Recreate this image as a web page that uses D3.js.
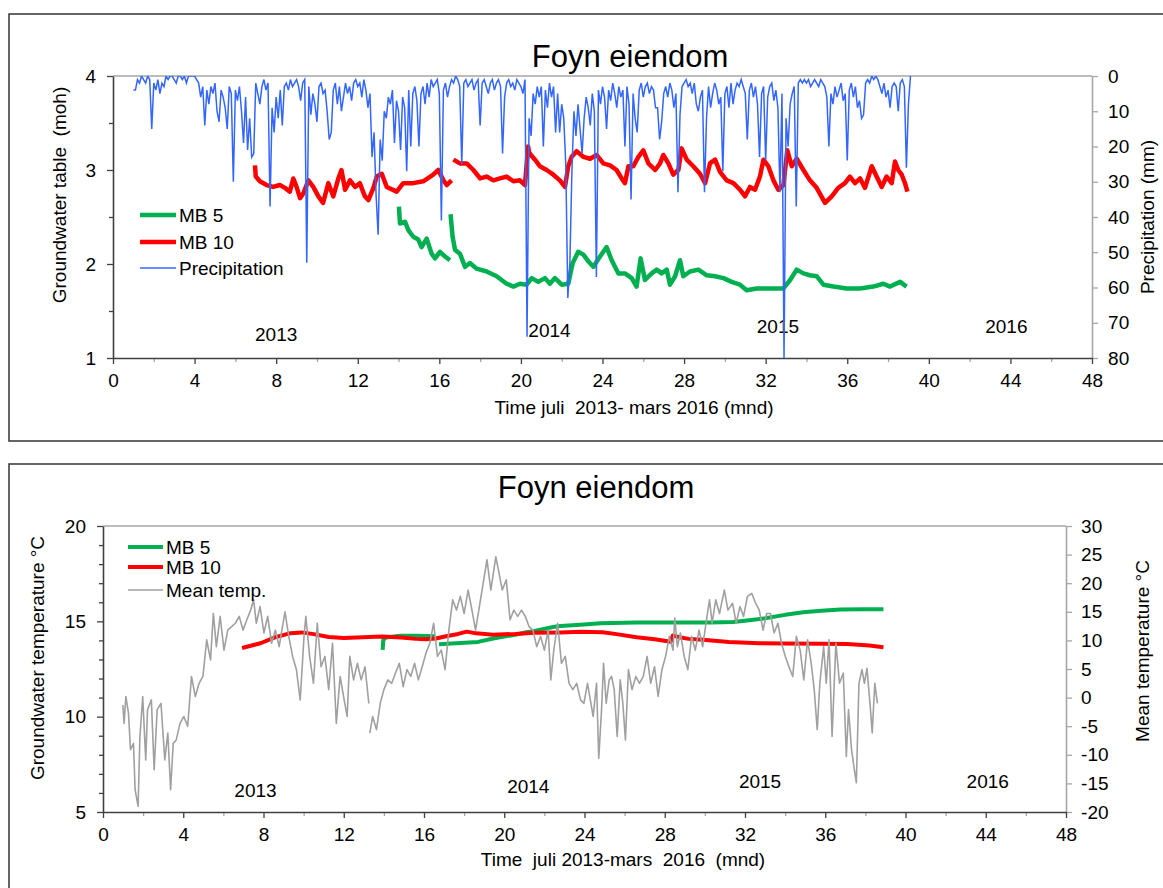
<!DOCTYPE html>
<html>
<head>
<meta charset="utf-8">
<script src="https://cdn.jsdelivr.net/npm/d3@7"></script>
<style>
  body { margin: 0; background: #fff; }
  text { font-family: "Liberation Sans", Arial, sans-serif; fill: #000; }
</style>
</head>
<body>
<div id="chart"></div>
<script>
// ---- data (months since july 2013) ----
const monthTicks = [0, 4, 8, 12, 16, 20, 24, 28, 32, 36, 40, 44, 48];
const monthMinorTicks = [2, 6, 10, 14, 18, 22, 26, 30, 34, 38, 42, 46];
const levelTicks = [1, 2, 3, 4];
const levelMinorTicks = [1.5, 2.5, 3.5];
const precipTicks = [0, 10, 20, 30, 40, 50, 60, 70, 80];
const tempTicks = [5, 10, 15, 20];
const tempMinorTicks = [6, 7, 8, 9, 11, 12, 13, 14, 16, 17, 18, 19];
const meanTempTicks = [-20, -15, -10, -5, 0, 5, 10, 15, 20, 25, 30];

const years = ["2013", "2014", "2015", "2016"];
const yearMonthsTop = [8.0, 21.4, 32.6, 43.8];
const yearLevelsTop = [1.18, 1.22, 1.265, 1.265];
const yearMonthsBottom = [7.6, 21.2, 32.75, 44.1];
const yearTempsBottom = [5.79, 6.0, 6.27, 6.27];

// groundwater table (moh), null = gap in the logger series
const mb5Level = [
  [14.02, 2.61], [14.07, 2.43], [14.32, 2.45], [14.48, 2.36], [14.72, 2.29], [14.97, 2.26],
  [15.13, 2.18], [15.38, 2.27], [15.62, 2.11], [15.79, 2.06], [16.03, 2.13], [16.28, 2.08],
  [16.52, 2.04], null,
  [16.55, 2.53], [16.65, 2.29], [16.77, 2.15], [17.01, 2.11], [17.26, 1.97], [17.5, 2.01],
  [17.83, 1.95], [18.32, 1.92], [18.81, 1.87], [19.3, 1.79], [19.63, 1.76], [19.95, 1.79],
  [20.28, 1.78], [20.53, 1.85], [20.85, 1.81], [21.18, 1.85], [21.42, 1.79], [21.67, 1.85],
  [22.0, 1.78], [22.32, 1.79], [22.54, 2.01], [22.81, 2.13], [23.06, 2.1], [23.3, 2.03],
  [23.55, 1.97], [23.88, 2.08], [24.2, 2.18], [24.45, 2.04], [24.78, 1.9], [25.1, 1.9],
  [25.43, 1.85], [25.67, 1.76], [25.87, 2.06], [26.08, 1.83], [26.41, 1.9], [26.66, 1.94],
  [26.9, 1.9], [27.15, 1.94], [27.31, 1.78], [27.56, 1.87], [27.8, 2.04], [27.96, 1.87],
  [28.29, 1.92], [28.7, 1.94], [29.11, 1.88], [29.52, 1.87], [29.93, 1.85], [30.33, 1.81],
  [30.74, 1.78], [31.07, 1.72], [31.56, 1.74], [32.21, 1.74], [32.87, 1.74], [33.2, 1.83],
  [33.52, 1.94], [33.85, 1.9], [34.17, 1.88], [34.5, 1.87], [34.83, 1.78], [35.32, 1.76],
  [35.97, 1.74], [36.63, 1.74], [37.28, 1.76], [37.77, 1.79], [38.1, 1.76], [38.59, 1.81],
  [38.91, 1.76]
];
const mb10Level = [
  [6.96, 3.05], [7.0, 2.93], [7.2, 2.88], [7.53, 2.84], [7.85, 2.82], [8.18, 2.84],
  [8.43, 2.81], [8.67, 2.77], [8.84, 2.91], [9.0, 2.82], [9.17, 2.7], [9.33, 2.75],
  [9.58, 2.89], [9.82, 2.82], [10.07, 2.72], [10.3, 2.65], [10.56, 2.86], [10.8, 2.72],
  [11.05, 2.91], [11.2, 3.0], [11.38, 2.79], [11.62, 2.89], [11.87, 2.82], [12.1, 2.86],
  [12.35, 2.72], [12.52, 2.68], [12.77, 2.81], [12.93, 2.93], [13.18, 2.96], [13.42, 2.82],
  [13.91, 2.77], [14.23, 2.86], [14.72, 2.86], [15.21, 2.88], [15.7, 2.95], [15.95, 3.0],
  [16.2, 2.89], [16.36, 2.84], [16.6, 2.89], null,
  [16.69, 3.11], [17.01, 3.07], [17.34, 3.07], [17.67, 3.0], [18.0, 2.91], [18.32, 2.93],
  [18.65, 2.89], [18.97, 2.91], [19.3, 2.93], [19.63, 2.88], [19.95, 2.89], [20.2, 2.84],
  [20.35, 3.25], [20.41, 3.18], [20.69, 3.11], [20.93, 3.04], [21.26, 3.0], [21.59, 2.95],
  [21.91, 2.89], [22.16, 2.82], [22.32, 3.04], [22.49, 3.14], [22.73, 3.2], [23.06, 3.14],
  [23.39, 3.12], [23.71, 3.16], [24.04, 3.07], [24.37, 3.05], [24.69, 3.0], [24.94, 2.91],
  [25.1, 2.86], [25.27, 3.04], [25.51, 3.04], [25.76, 3.14], [26.0, 3.21], [26.25, 3.07],
  [26.58, 3.0], [26.82, 3.07], [26.98, 3.16], [27.23, 3.07], [27.47, 2.95], [27.72, 3.0],
  [27.88, 3.23], [28.13, 3.11], [28.45, 3.04], [28.78, 2.96], [29.03, 2.86], [29.27, 3.07],
  [29.52, 3.11], [29.76, 2.98], [30.09, 2.89], [30.42, 2.86], [30.74, 2.79], [30.99, 2.72],
  [31.23, 2.82], [31.48, 2.79], [31.72, 2.93], [31.89, 3.11], [32.13, 3.04], [32.38, 2.89],
  [32.62, 2.79], [32.87, 2.84], [33.06, 3.21], [33.28, 3.04], [33.52, 3.12], [33.85, 3.0],
  [34.17, 2.89], [34.5, 2.81], [34.91, 2.65], [35.24, 2.72], [35.56, 2.81], [35.89, 2.86],
  [36.13, 2.93], [36.38, 2.86], [36.63, 2.91], [36.87, 2.81], [37.2, 3.04], [37.44, 2.93],
  [37.69, 2.82], [37.93, 2.93], [38.18, 2.86], [38.34, 3.09], [38.5, 3.0], [38.67, 2.95],
  [38.83, 2.86], [38.95, 2.77]
];

// precipitation (mm), one value every 0.1 month from month 1.0
const precipStart = 1.0;
const precipStep = 0.1;
const precipitation = [
  4, 4, 1, 2, 0, 1, 2, 0, 1, 15,
  2, 4, 1, 5, 2, 3, 0, 1, 0, 0,
  1, 2, 0, 0, 1, 0, 2, 0, 0, 0,
  0, 1, 2, 6, 3, 14, 4, 8, 3, 5,
  2, 10, 13, 4, 6, 9, 15, 3, 5, 30,
  4, 7, 3, 10, 19, 6, 21, 12, 23, 22,
  2, 5, 8, 3, 1, 4, 2, 37, 9, 16,
  6, 12, 4, 14, 3, 2, 4, 1, 3, 2,
  1, 3, 7, 2, 1, 53, 3, 11, 5, 8,
  13, 3, 2, 5, 4, 10, 18, 16, 4, 2,
  8, 3, 10, 6, 2, 5, 3, 7, 2, 1,
  3, 2, 6, 1, 4, 9, 5, 23, 16, 34,
  45, 18, 24, 10, 12, 6, 8, 4, 19, 7,
  10, 21, 6, 9, 27, 4, 20, 5, 3, 7,
  20, 5, 3, 8, 2, 6, 1, 3, 2, 1,
  5, 41, 4, 2, 6, 3, 1, 2, 0, 1,
  3, 25, 2, 1, 3, 2, 1, 4, 2, 1,
  14, 2, 1, 3, 5, 2, 1, 4, 2, 1,
  3, 22, 6, 2, 1, 3, 2, 4, 1, 2,
  3, 5, 1, 74, 12, 17, 5, 8, 3, 6,
  3, 20, 4, 9, 2, 6, 3, 16, 5, 16,
  8, 12, 25, 63, 53, 27, 10, 17, 8, 15,
  22, 12, 6, 9, 14, 5, 10, 57, 4, 8,
  3, 6, 15, 4, 7, 2, 5, 9, 3, 6,
  4, 20, 3, 8, 35, 5, 12, 16, 4, 2,
  6, 3, 2, 5, 3, 4, 9, 9, 18, 13,
  5, 3, 6, 2, 4, 9, 5, 33, 11, 3,
  2, 1, 3, 2, 5, 2, 8, 10, 6, 4,
  33, 12, 3, 9, 5, 2, 4, 8, 6, 27,
  5, 3, 9, 2, 8, 4, 2, 3, 1, 3,
  5, 18, 4, 2, 6, 3, 8, 23, 5, 3,
  24, 6, 3, 2, 7, 4, 9, 33, 5, 80,
  12, 20, 8, 5, 3, 37, 2, 1, 2, 1,
  2, 1, 3, 2, 1, 2, 3, 1, 2, 3,
  6, 20, 5, 8, 3, 6, 4, 2, 7, 5,
  24, 4, 2, 6, 3, 9, 7, 12, 11, 2,
  1, 2, 0, 1, 0, 1, 3, 5, 2, 6,
  4, 9, 3, 2, 3, 10, 2, 1, 3, 26,
  8, 0
];

// groundwater temperature (°C)
const mb5Temp = [
  [13.94, 13.5], [13.97, 14.02], [14.1, 14.15], [14.8, 14.24], [15.6, 14.24], [16.55, 14.22], null,
  [16.75, 13.8], [17.8, 13.86], [18.7, 13.92], [19.45, 14.1], [20.55, 14.3], [21.1, 14.43],
  [21.5, 14.5], [22.5, 14.72], [22.8, 14.76], [23.8, 14.82], [24.8, 14.9], [26.6, 14.94],
  [28.4, 14.94], [30.3, 14.94], [31.4, 14.96], [32.1, 15.04], [33.0, 15.16], [34.0, 15.34],
  [34.9, 15.48], [35.8, 15.56], [36.75, 15.62], [37.9, 15.63], [38.9, 15.63]
];
const mb10Temp = [
  [6.93, 13.6], [7.85, 13.85], [8.6, 14.17], [9.35, 14.38], [9.9, 14.42], [10.5, 14.33],
  [11.25, 14.18], [12.0, 14.12], [12.95, 14.16], [13.9, 14.2], [14.85, 14.15], [15.6, 14.08],
  [16.1, 14.06], [16.6, 14.1], [17.1, 14.22], [17.7, 14.34], [18.13, 14.46], [18.6, 14.37],
  [19.45, 14.3], [20.55, 14.34], [21.5, 14.4], [22.8, 14.42], [23.8, 14.45], [24.9, 14.43],
  [25.6, 14.33], [26.6, 14.17], [27.5, 14.06], [28.3, 13.93], [28.4, 14.25], [28.8, 14.15],
  [29.2, 14.08], [29.9, 14.03], [31.2, 13.92], [32.7, 13.85], [34.0, 13.84], [35.8, 13.83],
  [37.1, 13.81], [38.2, 13.73], [38.9, 13.64]
];

// daily mean air temperature (°C)
const meanTemp = [
  [0.99, -1.3], [1.05, -4.5], [1.14, 0.2], [1.27, -2.7], [1.37, -9.1], [1.52, -8.0],
  [1.6, -16.1], [1.75, -19.0], [1.84, -6.8], [1.98, 0.2], [2.13, -10.9], [2.22, -2.1],
  [2.41, -0.4], [2.55, -12.6], [2.7, -2.1], [2.89, -1.0], [3.08, -10.9], [3.23, -6.2],
  [3.37, -16.1], [3.5, -8.0], [3.65, -7.4], [3.84, -4.5], [4.03, -3.3], [4.22, -5.0],
  [4.41, 3.7], [4.6, 0.2], [4.79, 2.5], [4.98, 3.7], [5.17, 10.1], [5.36, 6.6],
  [5.5, 14.7], [5.65, 8.9], [5.84, 14.2], [6.03, 8.3], [6.22, 11.8], [6.41, 12.4],
  [6.6, 13.0], [6.79, 14.2], [6.98, 11.8], [7.17, 13.6], [7.36, 15.3], [7.51, 17.1],
  [7.64, 13.0], [7.83, 15.9], [8.02, 11.3], [8.21, 14.2], [8.4, 9.5], [8.59, 11.8],
  [8.78, 8.9], [9.07, 15.0], [9.26, 10.7], [9.45, 7.2], [9.64, 4.9], [9.83, -0.4],
  [10.02, 10.7], [10.11, 14.2], [10.3, 7.2], [10.49, 2.5], [10.68, 13.0], [10.87, 5.4],
  [11.06, 7.2], [11.25, 1.4], [11.44, 9.5], [11.63, -4.5], [11.82, 3.7], [12.02, -0.4],
  [12.17, -3.3], [12.3, 7.2], [12.49, 3.1], [12.68, 6.0], [12.87, 3.1], [13.06, 5.4],
  [13.25, -1.0], null,
  [13.3, -6.2], [13.44, -3.3], [13.63, -5.6], [13.82, -1.0], [14.0, 1.4], [14.2, 3.1],
  [14.39, 2.5], [14.58, 4.3], [14.77, 6.0], [14.96, 1.9], [15.15, 4.9], [15.34, 3.7],
  [15.53, 6.0], [15.72, 3.1], [15.91, 5.4], [16.1, 7.8], [16.29, 9.5], [16.48, 13.0],
  [16.67, 7.2], [16.86, 8.3], [17.05, 4.9], [17.24, 11.8], [17.43, 17.1], [17.62, 15.3],
  [17.81, 17.7], [18.0, 14.7], [18.2, 18.8], [18.39, 15.3], [18.57, 11.8], [18.76, 15.9],
  [18.95, 20.0], [19.14, 24.1], [19.33, 18.8], [19.58, 24.6], [19.71, 22.3], [19.9, 18.8],
  [20.1, 20.6], [20.29, 13.6], [20.48, 15.3], [20.67, 14.2], [20.86, 15.3], [21.05, 14.2],
  [21.24, 12.4], [21.43, 11.8], [21.62, 8.9], [21.81, 10.7], [22.0, 8.3], [22.19, 11.8],
  [22.32, 3.1], [22.47, 8.3], [22.66, 13.0], [22.85, 6.0], [23.04, 7.2], [23.23, 2.5],
  [23.42, 1.4], [23.61, 2.5], [23.8, -0.4], [23.97, -1.0], [24.15, 2.5], [24.43, -3.3],
  [24.6, 2.5], [24.71, -10.6], [24.85, -2.1], [24.95, 6.0], [25.08, -1.0], [25.23, 3.1],
  [25.35, 3.7], [25.48, 1.4], [25.63, -6.8], [25.78, 3.1], [25.91, -1.0], [26.04, -7.4],
  [26.19, 4.9], [26.37, 1.4], [26.56, 3.7], [26.74, 2.5], [26.93, 3.7], [27.12, 7.2],
  [27.3, 2.5], [27.49, 5.4], [27.67, 0.2], [27.86, 4.9], [28.04, 7.2], [28.23, 10.7],
  [28.41, 8.3], [28.5, 13.9], [28.63, 8.9], [28.78, 11.3], [28.97, 7.2], [29.15, 4.9],
  [29.34, 10.7], [29.52, 8.3], [29.71, 11.8], [29.89, 8.9], [30.08, 13.6], [30.23, 17.1],
  [30.36, 13.0], [30.54, 17.1], [30.73, 14.7], [30.97, 18.8], [31.15, 15.3], [31.38, 16.5],
  [31.56, 13.0], [31.75, 15.9], [31.93, 14.2], [32.12, 17.7], [32.34, 18.2], [32.53, 16.5],
  [32.71, 15.3], [32.9, 11.8], [33.08, 14.7], [33.27, 14.7], [33.45, 11.3], [33.64, 13.0],
  [33.82, 9.5], [34.01, 7.2], [34.19, 5.4], [34.38, 3.7], [34.56, 10.7], [34.75, 8.3],
  [34.93, 3.1], [35.12, 10.1], [35.3, 6.0], [35.45, 1.4], [35.6, -5.6], [35.73, 2.5],
  [35.92, 8.9], [36.05, 2.5], [36.19, 10.1], [36.34, -6.8], [36.53, 9.5], [36.71, 2.5],
  [36.9, 4.3], [37.05, -10.3], [37.16, -2.1], [37.31, -9.1], [37.45, -12.6], [37.55, -14.9],
  [37.68, 2.5], [37.83, 4.9], [37.95, 2.5], [38.08, 5.1], [38.23, -1.0], [38.34, -6.2],
  [38.47, 2.5], [38.6, -1.0]
];

// ---- drawing ----
const width = 1163, height = 888;
const green = "#00b050", red = "#ff0000", blue = "#3366ff", grey = "#a0a0a0";
const axisDark = "#404040", axisLight = "#a6a6a6";

const svg = d3.select("#chart").append("svg")
  .attr("width", width)
  .attr("height", height);

// outer frames of the two charts (right/bottom run off the picture)
svg.append("rect").attr("x", 9).attr("y", 14).attr("width", 1200).attr("height", 427)
  .attr("fill", "none").attr("stroke", "#333").attr("stroke-width", 1.5);
svg.append("rect").attr("x", 9).attr("y", 464).attr("width", 1200).attr("height", 460)
  .attr("fill", "none").attr("stroke", "#333").attr("stroke-width", 1.5);

function styleAxis (g, color, fontSize) {
  g.attr("font-size", null).attr("font-family", null);
  g.select(".domain").attr("stroke", color).attr("stroke-width", 1.6);
  g.selectAll(".tick line").attr("stroke", color).attr("stroke-width", 1.3);
  g.selectAll(".tick text").style("font-size", fontSize).attr("fill", "#000");
}

function drawPanel (cfg) {
  const { x, yL, yR, id } = cfg;
  const [x0, x1] = x.range();
  const [yb, yt] = yL.range();

  svg.append("clipPath").attr("id", id)
    .append("rect").attr("x", x0).attr("y", yt).attr("width", x1 - x0).attr("height", yb - yt);

  // top border of the plot area
  svg.append("line").attr("x1", x0).attr("x2", x1).attr("y1", yt).attr("y2", yt)
    .attr("stroke", axisLight).attr("stroke-width", 1.6);

  // right axis
  const gr = svg.append("g").attr("transform", `translate(${x1},0)`)
    .call(d3.axisRight(yR).tickValues(cfg.rightTicks).tickFormat(String)
      .tickSize(6).tickSizeOuter(0).tickPadding(cfg.rightPad));
  styleAxis(gr, axisLight, "19px");
  gr.selectAll(".tick text").attr("dx", "-0.1em");

  // x axis, minor then major
  const gxm = svg.append("g").attr("transform", `translate(0,${yb})`)
    .call(d3.axisBottom(x).tickValues(monthMinorTicks).tickSize(4).tickFormat(""));
  styleAxis(gxm, axisLight, "19px");
  gxm.select(".domain").remove();
  const gx = svg.append("g").attr("transform", `translate(0,${yb})`)
    .call(d3.axisBottom(x).tickValues(monthTicks).tickFormat(String)
      .tickSize(6).tickSizeOuter(0).tickPadding(cfg.xPad));
  styleAxis(gx, axisDark, "19px");

  // left axis, minor then major
  const gym = svg.append("g").attr("transform", `translate(${x0},0)`)
    .call(d3.axisLeft(yL).tickValues(cfg.leftMinor).tickSize(4).tickFormat(""));
  styleAxis(gym, axisDark, "19px");
  gym.select(".domain").remove();
  const gy = svg.append("g").attr("transform", `translate(${x0},0)`)
    .call(d3.axisLeft(yL).tickValues(cfg.leftTicks).tickFormat(String)
      .tickSize(6).tickSizeOuter(0).tickPadding(11));
  styleAxis(gy, axisDark, "19px");

  // titles
  svg.append("text").attr("x", cfg.titleX).attr("y", cfg.titleY)
    .attr("text-anchor", "middle").style("font-size", "31px").text("Foyn eiendom");

  svg.append("text").attr("x", cfg.xLabelX).attr("y", cfg.xLabelY)
    .attr("text-anchor", "middle").style("font-size", "19px").style("white-space", "pre")
    .text(cfg.xLabel);

  svg.append("text")
    .attr("transform", `translate(${cfg.leftLabelX},${cfg.leftLabelY}) rotate(-90)`)
    .attr("text-anchor", "middle").style("font-size", "19px").style("white-space", "pre")
    .text(cfg.leftLabel);

  svg.append("text")
    .attr("transform", `translate(${cfg.rightLabelX},${cfg.rightLabelY}) rotate(-90)`)
    .attr("text-anchor", "middle").style("font-size", "19px")
    .text(cfg.rightLabel);

  // year labels
  svg.append("g").selectAll("text")
    .data(years)
    .join("text")
    .attr("x", (d, i) => x(cfg.yearMonths[i]))
    .attr("y", (d, i) => yL(cfg.yearValues[i]))
    .attr("text-anchor", "middle")
    .style("font-size", "19px")
    .text(d => d);

  return svg.append("g").attr("clip-path", `url(#${id})`);
}

function legend (items, lx0, lx1, tx, ys) {
  const g = svg.append("g");
  items.forEach((it, i) => {
    g.append("line").attr("x1", lx0).attr("x2", lx1).attr("y1", ys[i]).attr("y2", ys[i])
      .attr("stroke", it.color).attr("stroke-width", it.width);
    g.append("text").attr("x", tx).attr("y", ys[i]).attr("dy", "0.35em")
      .style("font-size", "19px").text(it.label);
  });
}

// ---- top chart: groundwater table and precipitation ----
const xTop = d3.scaleLinear().domain([0, 48]).range([113, 1092]);
const yLevel = d3.scaleLinear().domain([1, 4]).range([358, 76]);
const yPrecip = d3.scaleLinear().domain([0, 80]).range([76, 358]);

const plotTop = drawPanel({
  id: "clipTop", x: xTop, yL: yLevel, yR: yPrecip,
  leftTicks: levelTicks, leftMinor: levelMinorTicks, rightTicks: precipTicks,
  rightPad: 12, xPad: 10,
  titleX: 630, titleY: 67,
  xLabel: "Time juli  2013- mars 2016 (mnd)", xLabelX: 634, xLabelY: 414,
  leftLabel: "Groundwater table  (moh)", leftLabelX: 66, leftLabelY: 195,
  rightLabel: "Precipitation (mm)", rightLabelX: 1154, rightLabelY: 217,
  yearMonths: yearMonthsTop, yearValues: yearLevelsTop
});

const levelLine = d3.line()
  .defined(d => d !== null)
  .x(d => xTop(d[0]))
  .y(d => yLevel(d[1]));

plotTop.append("path").datum(mb5Level)
  .attr("d", levelLine).attr("fill", "none")
  .attr("stroke", green).attr("stroke-width", 4.5).attr("stroke-linejoin", "round");

plotTop.append("path").datum(mb10Level)
  .attr("d", levelLine).attr("fill", "none")
  .attr("stroke", red).attr("stroke-width", 4.5).attr("stroke-linejoin", "round");

const precipLine = d3.line()
  .x((d, i) => xTop(precipStart + i * precipStep))
  .y(d => yPrecip(d));

plotTop.append("path").datum(precipitation)
  .attr("d", precipLine).attr("fill", "none")
  .attr("stroke", blue).attr("stroke-width", 1.5);

legend([
  { label: "MB 5", color: green, width: 4.5 },
  { label: "MB 10", color: red, width: 4.5 },
  { label: "Precipitation", color: blue, width: 1.5 }
], 140, 176, 179, [215, 242, 268]);

// ---- bottom chart: groundwater and air temperature ----
const xBot = d3.scaleLinear().domain([0, 48]).range([103, 1066]);
const yTemp = d3.scaleLinear().domain([5, 20]).range([812, 526]);
const yMean = d3.scaleLinear().domain([-20, 30]).range([812, 526]);

const plotBot = drawPanel({
  id: "clipBot", x: xBot, yL: yTemp, yR: yMean,
  leftTicks: tempTicks, leftMinor: tempMinorTicks, rightTicks: meanTempTicks,
  rightPad: 11, xPad: 10,
  titleX: 596, titleY: 498,
  xLabel: "Time  juli 2013-mars  2016  (mnd)", xLabelX: 623, xLabelY: 866,
  leftLabel: "Groundwater temperature °C", leftLabelX: 44, leftLabelY: 658,
  rightLabel: "Mean temperature °C", rightLabelX: 1149, rightLabelY: 651,
  yearMonths: yearMonthsBottom, yearValues: yearTempsBottom
});

const tempLine = d3.line()
  .defined(d => d !== null)
  .x(d => xBot(d[0]))
  .y(d => yTemp(d[1]));

plotBot.append("path").datum(mb5Temp)
  .attr("d", tempLine).attr("fill", "none")
  .attr("stroke", green).attr("stroke-width", 4).attr("stroke-linejoin", "round");

plotBot.append("path").datum(mb10Temp)
  .attr("d", tempLine).attr("fill", "none")
  .attr("stroke", red).attr("stroke-width", 4).attr("stroke-linejoin", "round");

const meanLine = d3.line()
  .defined(d => d !== null)
  .x(d => xBot(d[0]))
  .y(d => yMean(d[1]));

plotBot.append("path").datum(meanTemp)
  .attr("d", meanLine).attr("fill", "none")
  .attr("stroke", grey).attr("stroke-width", 1.6).attr("stroke-linejoin", "round");

legend([
  { label: "MB 5", color: green, width: 4 },
  { label: "MB 10", color: red, width: 4 },
  { label: "Mean temp.", color: grey, width: 1.6 }
], 128, 163, 166, [547, 567, 590]);
</script>
</body>
</html>
